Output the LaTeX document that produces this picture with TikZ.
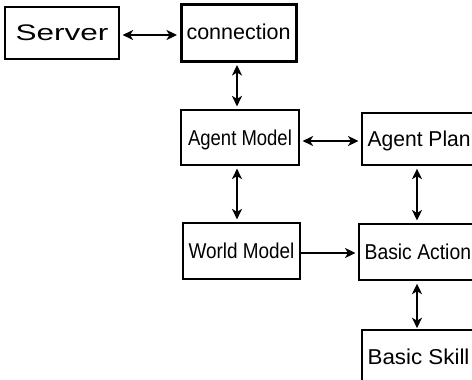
\documentclass[tikz,border=0pt]{standalone}
\usepackage{fontspec}
\setmainfont{Liberation Sans}
\usetikzlibrary{arrows.meta}
\begin{document}
\begin{tikzpicture}[x=1pt,y=-1pt,
  >={Stealth[length=10.5pt,width=10pt,inset=3pt]},
  box/.style={draw, line width=2.2pt, inner sep=0pt, text height=15pt, text depth=0pt,
    font=\fontsize{21.5}{21.5}\selectfont},
  openbox/.style={box, anchor=north west, inner xsep=5.5pt, align=left},
  link/.style={line width=2.3pt, <->, shorten <=2.5pt, shorten >=2.5pt},
  feed/.style={line width=2pt, ->, shorten >=2.5pt}]
\useasboundingbox (0,0) rectangle (472,380);
\clip (0,0) rectangle (472,380);

% left column
\node[box, minimum width=114pt, minimum height=52pt] (server) at (62,33)
  {\fontsize{22.5}{22.5}\selectfont\scalebox{1.4}[1]{Server}};
\node[box, line width=3pt, minimum width=115pt, minimum height=57pt, text height=13pt] (conn) at (238.5,32.5)
  {\scalebox{1.0}[1]{connection}};
\node[box, minimum width=118pt, minimum height=55pt] (am) at (240,137.5)
  {\scalebox{0.86}[1]{Agent Model}};
\node[box, minimum width=117pt, minimum height=56pt] (wm) at (241.5,251)
  {\scalebox{0.88}[1]{World Model}};

% right column, running past the edge
\node[openbox, minimum height=52pt] (ap) at (361,112)
  {\makebox[130pt][l]{\scalebox{0.98}[1]{Agent Plan}}};
\node[openbox, minimum height=56pt] (ba) at (358,223)
  {\makebox[133pt][l]{\scalebox{0.9}[1]{Basic Action}}};
\node[openbox, minimum height=54pt] (bs) at (361,329)
  {\makebox[130pt][l]{\scalebox{1.04}[1]{Basic Skill}}};

% connectors
\draw[link] (server.east |- 0,35) -- (conn.west |- 0,35);
\draw[link] (237,0 |- conn.south) -- (237,0 |- am.north);
\draw[link] (am.east |- 0,141) -- (ap.west |- 0,141);
\draw[link] (237,0 |- am.south) -- (237,0 |- wm.north);
\draw[link] (417,0 |- ap.south) -- (417,0 |- ba.north);
\draw[feed] (wm.east |- 0,253) -- (ba.west |- 0,253);
\draw[link, shorten >=0.8pt] (417,0 |- ba.south) -- (417,0 |- bs.north);
\end{tikzpicture}
\end{document}
